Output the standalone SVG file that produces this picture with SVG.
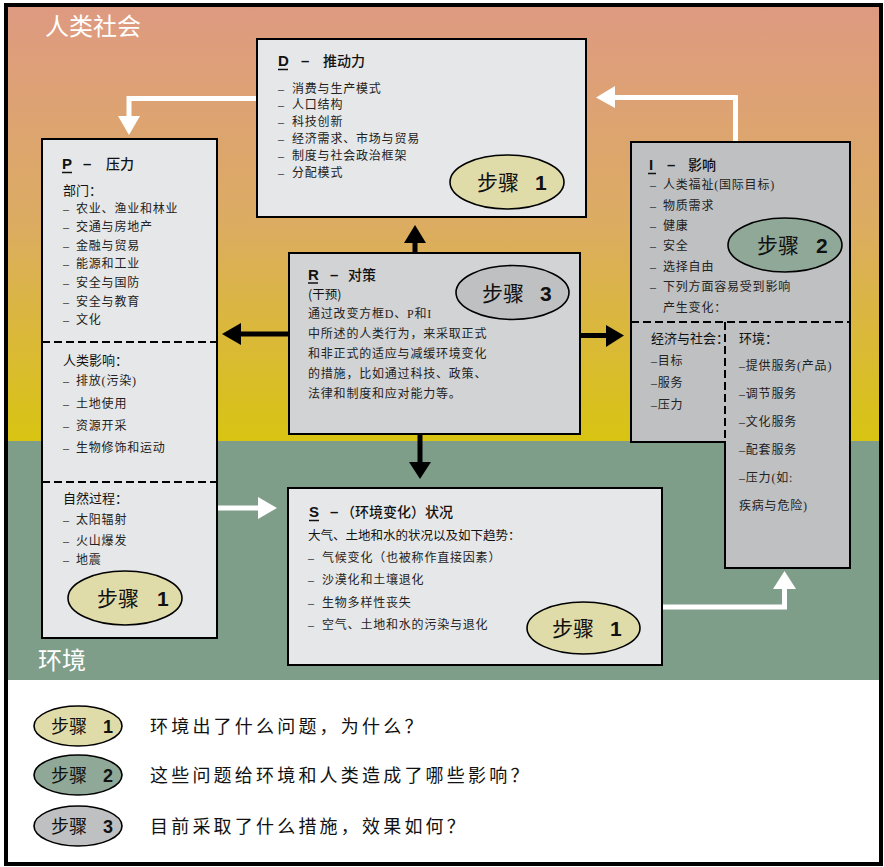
<svg xmlns="http://www.w3.org/2000/svg" width="884" height="867" viewBox="0 0 884 867">
<defs>
<linearGradient id="sky" x1="0" y1="0" x2="0" y2="1">
<stop offset="0" stop-color="#DE9A81"/>
<stop offset="0.5" stop-color="#DCAC62"/>
<stop offset="1" stop-color="#D8C412"/>
</linearGradient>
</defs>
<style>
.box{stroke:#000;stroke-width:2}
.lt{fill:#E6E7E8}
.dk{fill:#BFC0C2}
.md{fill:#D2D3D5}
.dash{stroke:#000;stroke-width:2;stroke-dasharray:8 4;fill:none}
.t{font-family:"Liberation Serif","Noto Sans CJK SC",serif;font-size:12px;letter-spacing:0.8px;fill:#222}
.h{font-family:"Noto Sans CJK SC",sans-serif;font-size:13px;fill:#111}
.tl{font-family:"Liberation Sans","Noto Sans CJK SC",sans-serif;font-size:15px;font-weight:bold;fill:#111}
.tc{font-family:"Noto Sans CJK SC",sans-serif;font-size:14px;font-weight:500;fill:#111}
.st{font-family:"Noto Sans CJK SC",sans-serif;font-size:21px;fill:#111}
.num{font-family:"Liberation Sans",sans-serif;font-size:21px;font-weight:bold;fill:#111}
.s1{fill:#E0DCA9;stroke:#000;stroke-width:1.6}
.s2{fill:#8FA898;stroke:#000;stroke-width:1.6}
.s3{fill:#BFC0C2;stroke:#000;stroke-width:1.6}
.lg{font-family:"Liberation Serif","Noto Sans CJK SC",serif;font-size:18px;letter-spacing:3.2px;fill:#111}
.ls{font-family:"Noto Sans CJK SC",sans-serif;font-size:18px;fill:#111}
.ln{font-family:"Liberation Sans",sans-serif;font-size:18px;font-weight:bold;fill:#111}
.region{font-family:"Noto Sans CJK SC",sans-serif;font-size:24px;fill:#fff}
.ul{stroke:#111;stroke-width:1.5}
.wl{stroke:#fff;stroke-width:5;fill:none}
.bl{stroke:#000;stroke-width:5;fill:none}
</style>
<g id="background">
<rect x="8" y="7" width="872" height="434" fill="url(#sky)"/>
<rect x="8" y="441" width="872" height="239" fill="#7E9E8A"/>
<rect x="8" y="680" width="872" height="183" fill="#fff"/>
<rect x="6" y="5" width="875" height="859" fill="none" stroke="#000" stroke-width="4"/>
<text class="region" x="45" y="35">人类社会</text>
<text class="region" x="38" y="669">环境</text>
</g>
<g id="connectors">
<path class="wl" d="M257,98.5 H129 V117"/>
<polygon points="118,116 140,116 129,135" fill="#fff"/>
<path class="wl" d="M735.5,142 V97.5 H614"/>
<polygon points="615,86 615,108 596,97.5" fill="#fff"/>
<path class="wl" d="M217,508 H259"/>
<polygon points="258,497 258,519 277,508" fill="#fff"/>
<path class="wl" d="M662,607 H784.5 V588"/>
<polygon points="773,589 796,589 784.5,571" fill="#fff"/>
<path class="bl" d="M415,253 V241"/>
<polygon points="404,243 426,243 415,225" fill="#000"/>
<path class="bl" d="M289,334 H240"/>
<polygon points="241,323 241,345 222,334" fill="#000"/>
<path class="bl" d="M580,335.5 H607"/>
<polygon points="606,325 606,347 624,335.5" fill="#000"/>
<path class="bl" d="M420,434 V463"/>
<polygon points="409,462 431,462 420,479" fill="#000"/>
</g>
<g id="D">
<rect class="box lt" x="257" y="39" width="329" height="178"/>
<text class="tl" x="278" y="66">D</text>
<line class="ul" x1="278" y1="69.5" x2="288" y2="69.5"/>
<text class="tl" x="301" y="66">–</text>
<text class="tc" x="323" y="66">推动力</text>
<g class="t">
<text x="278" y="92.5">–</text><text x="292" y="92.5">消费与生产模式</text>
<text x="278" y="109.3">–</text><text x="292" y="109.3">人口结构</text>
<text x="278" y="126.1">–</text><text x="292" y="126.1">科技创新</text>
<text x="278" y="142.9">–</text><text x="292" y="142.9">经济需求、市场与贸易</text>
<text x="278" y="159.7">–</text><text x="292" y="159.7">制度与社会政治框架</text>
<text x="278" y="176.5">–</text><text x="292" y="176.5">分配模式</text>
</g>
<ellipse class="s1" cx="507" cy="182" rx="57" ry="27"/>
<text class="st" x="477" y="190">步骤</text>
<text class="num" x="535" y="190">1</text>
</g>
<g id="P">
<rect class="box lt" x="42" y="139" width="175" height="499"/>
<line class="dash" x1="42" y1="342" x2="217" y2="342"/>
<line class="dash" x1="42" y1="482" x2="217" y2="482"/>
<text class="tl" x="62" y="169">P</text>
<line class="ul" x1="62" y1="172.5" x2="72" y2="172.5"/>
<text class="tl" x="83" y="169">–</text>
<text class="tc" x="106" y="169">压力</text>
<text class="h" x="63" y="195">部门：</text>
<g class="t">
<text x="63" y="212.5">–</text><text x="76" y="212.5">农业、渔业和林业</text>
<text x="63" y="231">–</text><text x="76" y="231">交通与房地产</text>
<text x="63" y="249.5">–</text><text x="76" y="249.5">金融与贸易</text>
<text x="63" y="268">–</text><text x="76" y="268">能源和工业</text>
<text x="63" y="287">–</text><text x="76" y="287">安全与国防</text>
<text x="63" y="305.5">–</text><text x="76" y="305.5">安全与教育</text>
<text x="63" y="324">–</text><text x="76" y="324">文化</text>
</g>
<text class="h" x="63" y="365">人类影响：</text>
<g class="t">
<text x="63" y="385">–</text><text x="76" y="385">排放(污染)</text>
<text x="63" y="408">–</text><text x="76" y="408">土地使用</text>
<text x="63" y="430">–</text><text x="76" y="430">资源开采</text>
<text x="63" y="452">–</text><text x="76" y="452">生物修饰和运动</text>
</g>
<text class="h" x="63" y="503">自然过程：</text>
<g class="t">
<text x="63" y="524">–</text><text x="76" y="524">太阳辐射</text>
<text x="63" y="544.5">–</text><text x="76" y="544.5">火山爆发</text>
<text x="63" y="564">–</text><text x="76" y="564">地震</text>
</g>
<ellipse class="s1" cx="125" cy="598" rx="57" ry="27"/>
<text class="st" x="97" y="606">步骤</text>
<text class="num" x="157" y="606">1</text>
</g>
<g id="I">
<polygon class="box dk" points="631,142 850,142 850,568 725,568 725,442 631,442"/>
<line class="dash" x1="631" y1="322" x2="850" y2="322"/>
<line class="dash" x1="725" y1="322" x2="725" y2="442"/>
<text class="tl" x="649" y="170">I</text>
<line class="ul" x1="648" y1="173.5" x2="656" y2="173.5"/>
<text class="tl" x="667" y="170">–</text>
<text class="tc" x="688" y="170">影响</text>
<g class="t">
<text x="650" y="189">–</text><text x="663" y="189">人类福祉(国际目标)</text>
<text x="650" y="209.5">–</text><text x="663" y="209.5">物质需求</text>
<text x="650" y="230">–</text><text x="663" y="230">健康</text>
<text x="650" y="250">–</text><text x="663" y="250">安全</text>
<text x="650" y="270.5">–</text><text x="663" y="270.5">选择自由</text>
<text x="650" y="291">–</text><text x="663" y="291">下列方面容易受到影响</text>
<text x="663" y="311.5">产生变化：</text>
</g>
<ellipse class="s2" cx="785" cy="245" rx="57" ry="27"/>
<text class="st" x="757" y="253">步骤</text>
<text class="num" x="816" y="253">2</text>
<text class="h" x="651" y="343">经济与社会：</text>
<text class="h" x="739" y="343">环境：</text>
<g class="t">
<text x="651" y="364.5">–目标</text>
<text x="651" y="386.5">–服务</text>
<text x="651" y="408.5">–压力</text>
<text x="739" y="369.5">–提供服务(产品)</text>
<text x="739" y="397.5">–调节服务</text>
<text x="739" y="425.5">–文化服务</text>
<text x="739" y="453.5">–配套服务</text>
<text x="739" y="481.5">–压力(如:</text>
<text x="739" y="509.5">疾病与危险)</text>
</g>
</g>
<g id="R">
<rect class="box md" x="289" y="253" width="291" height="181"/>
<text class="tl" x="308" y="280">R</text>
<line class="ul" x1="308" y1="283" x2="318" y2="283"/>
<text class="tl" x="330" y="280">–</text>
<text class="tc" x="348" y="280">对策</text>
<text class="h" x="308" y="299" style="font-size:12.5px">(干预)</text>
<g class="t">
<text x="308" y="318">通过改变方框D、P和I</text>
<text x="308" y="338">中所述的人类行为，来采取正式</text>
<text x="308" y="358">和非正式的适应与减缓环境变化</text>
<text x="308" y="378">的措施，比如通过科技、政策、</text>
<text x="308" y="398">法律和制度和应对能力等。</text>
</g>
<ellipse class="s3" cx="512.5" cy="292.5" rx="56.5" ry="27"/>
<text class="st" x="482" y="301">步骤</text>
<text class="num" x="540" y="301">3</text>
</g>
<g id="S">
<rect class="box lt" x="288" y="488" width="374" height="177"/>
<text class="tl" x="309" y="517">S</text>
<line class="ul" x1="309" y1="520.5" x2="319" y2="520.5"/>
<text class="tl" x="330" y="517">–</text>
<text class="tc" x="341" y="517">（环境变化）状况</text>
<text class="h" x="308" y="540" style="font-size:12.5px">大气、土地和水的状况以及如下趋势：</text>
<g class="t">
<text x="308" y="562">–</text><text x="322" y="562">气候变化（也被称作直接因素）</text>
<text x="308" y="584">–</text><text x="322" y="584">沙漠化和土壤退化</text>
<text x="308" y="606.5">–</text><text x="322" y="606.5">生物多样性丧失</text>
<text x="308" y="629">–</text><text x="322" y="629">空气、土地和水的污染与退化</text>
</g>
<ellipse class="s1" cx="583.5" cy="628" rx="56.5" ry="26"/>
<text class="st" x="552" y="636">步骤</text>
<text class="num" x="610" y="636">1</text>
</g>
<g id="legend">
<ellipse class="s1" cx="78" cy="726" rx="44" ry="20"/>
<text class="ls" x="51" y="733">步骤</text><text class="ln" x="103" y="733">1</text>
<text class="lg" x="150" y="733">环境出了什么问题，为什么？</text>
<ellipse class="s2" cx="78" cy="775" rx="44" ry="20"/>
<text class="ls" x="51" y="782">步骤</text><text class="ln" x="103" y="782">2</text>
<text class="lg" x="150" y="782">这些问题给环境和人类造成了哪些影响？</text>
<ellipse class="s3" cx="78" cy="826" rx="44" ry="20"/>
<text class="ls" x="51" y="833">步骤</text><text class="ln" x="103" y="833">3</text>
<text class="lg" x="150" y="833">目前采取了什么措施，效果如何？</text>
</g>
</svg>
